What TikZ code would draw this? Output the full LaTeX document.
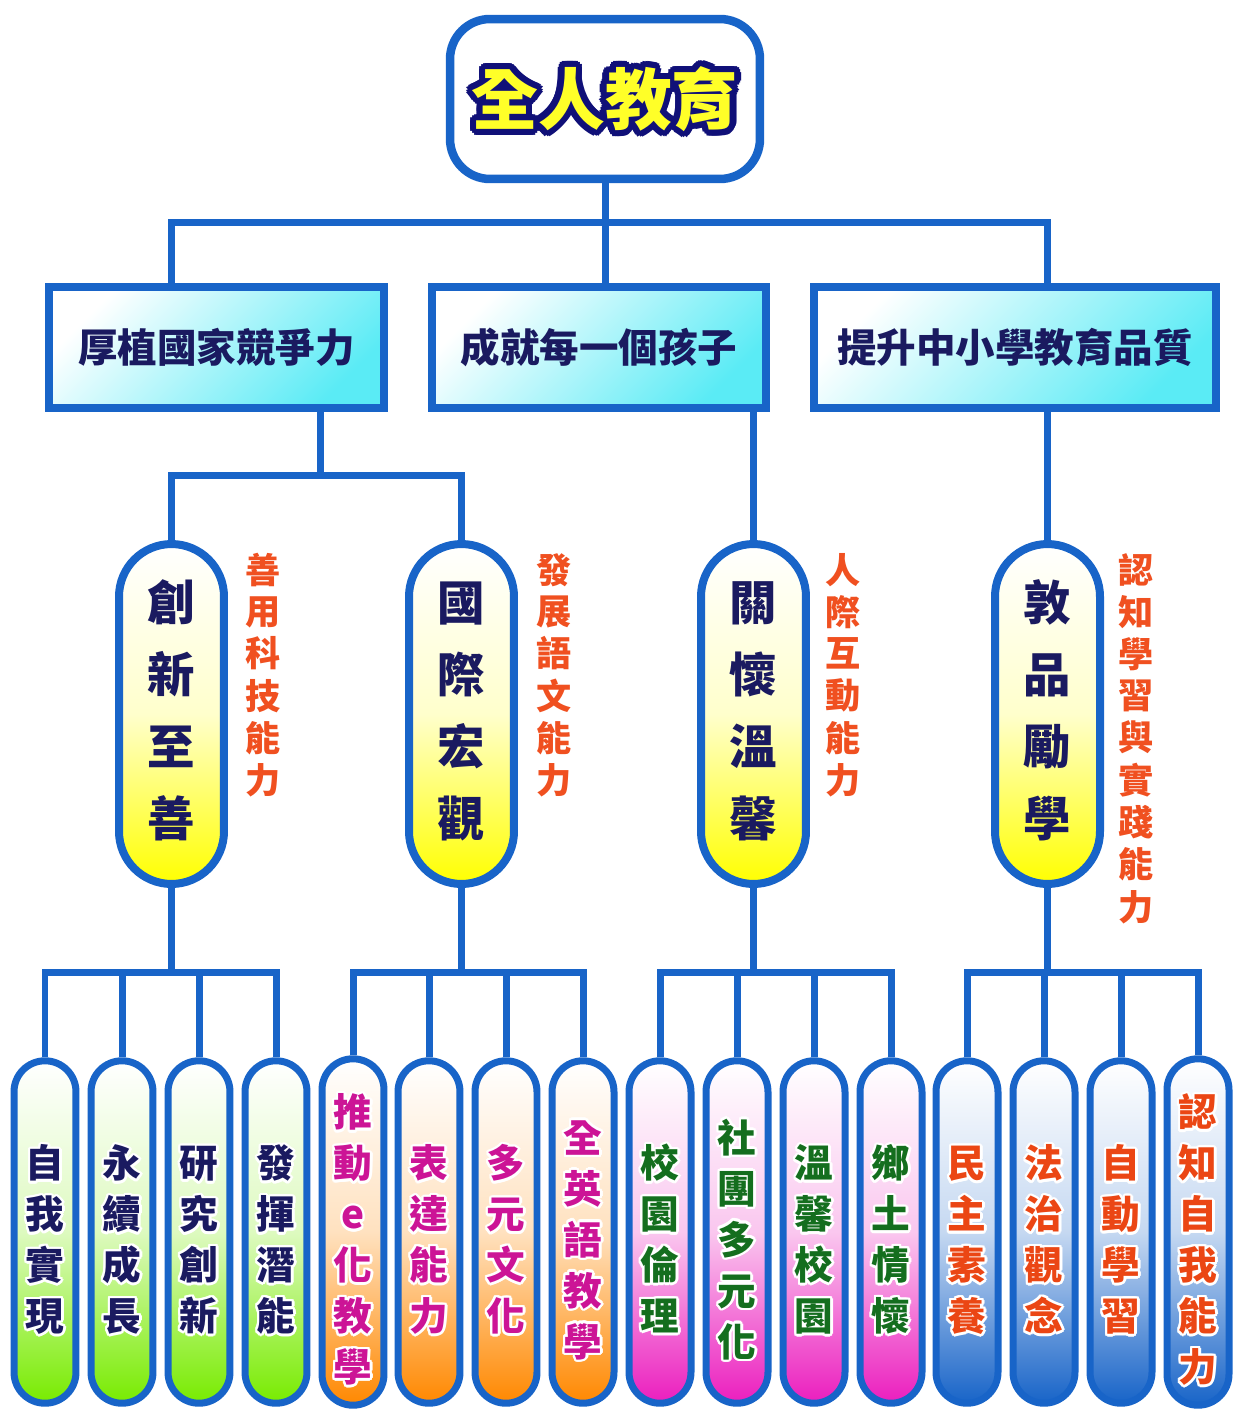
\documentclass[tikz,border=0pt]{standalone}
\usepackage{fontspec}
\setmainfont{Noto Sans CJK TC}
\usepackage{xcolor}
\usepackage{tikz}

\definecolor{linkblue}{RGB}{24,100,200}
\definecolor{titlenavy}{RGB}{16,16,120}
\definecolor{titleyellow}{RGB}{255,255,40}
\definecolor{textnavy}{RGB}{26,26,96}
\definecolor{labelred}{RGB}{240,80,32}
\definecolor{goalcyan}{RGB}{90,235,245}
\definecolor{valyellow}{RGB}{255,255,0}
\definecolor{leafgreen}{RGB}{120,235,0}
\definecolor{leaforange}{RGB}{255,136,0}
\definecolor{leafpink}{RGB}{235,30,190}
\definecolor{leafblue}{RGB}{24,100,200}
\definecolor{inkpink}{RGB}{204,20,150}
\definecolor{inkgreen}{RGB}{20,110,30}
\definecolor{inkred}{RGB}{235,70,20}

% characters stacked one under the other
\newcommand\stackchars[1]{\begin{tabular}{@{}c@{}}#1\end{tabular}}
% same, sitting a little lower in its pill
\newcommand\leafchars[1]{\begin{tabular}{@{}c@{}}\rule{0pt}{34pt}#1\end{tabular}}
% text with a coloured outline: #1 outline colour, #2 radius, #3 text colour, #4 text
\newcommand\halo[4]{%
  \foreach \ang in {0,22.5,...,337.5}{%
    \pgfmathsetlengthmacro\hx{#2*cos(\ang)}%
    \pgfmathsetlengthmacro\hy{#2*sin(\ang)}%
    \rlap{\kern\hx\raisebox{\hy}{\textcolor{#1}{#4}}}}%
  \textcolor{#3}{#4}}

\tikzset{
  conn/.style={draw=linkblue, line width=0.14cm},
  titlebox/.style={draw=linkblue, line width=0.17cm, rounded corners=0.8cm, fill=white,
    minimum width=6.2cm, minimum height=3.2cm, font=\bfseries\fontsize{38}{42}\selectfont},
  goalbox/.style={draw=linkblue, line width=0.16cm, top color=white, bottom color=goalcyan,
    shading angle=45, minimum height=2.42cm, text=textnavy,
    font=\bfseries\fontsize{22.5}{26}\selectfont},
  valpill/.style={draw=linkblue, line width=0.16cm, rounded corners=1.05cm,
    top color=white, bottom color=valyellow, middle color=valyellow!20,
    minimum width=2.1cm, minimum height=6.8cm, text=textnavy,
    font=\bfseries\fontsize{27}{41}\selectfont},
  sidelabel/.style={anchor=north, inner sep=0pt, text=labelred,
    font=\bfseries\fontsize{20}{23.2}\selectfont},
  leaf/.style={draw=linkblue, line width=0.14cm, rounded corners=0.62cm,
    top color=white, bottom color=#1, middle color=#1!25,
    minimum width=1.24cm, minimum height=6.85cm,
    font=\bfseries\fontsize{22}{29}\selectfont}
}

\begin{document}
\begin{tikzpicture}[x=0.02cm, y=-0.02cm]
\useasboundingbox[fill=white] (0,0) rectangle (1234,1410);

% top
\node[titlebox] (top) at (605,99) {\halo{titlenavy}{3.6pt}{titleyellow}{全人教育}};

% goals
\node[goalbox, minimum width=6.7cm] (goalA) at (216.5,347.5) {厚植國家競爭力};
\node[goalbox, minimum width=6.68cm] (goalB) at (599,347.5) {成就每一個孩子};
\node[goalbox, minimum width=8.04cm] (goalC) at (1015,347.5) {提升中小學教育品質};

% values and their abilities
\node[valpill] (valA) at (171.5,714) {\stackchars{創\\新\\至\\善}};
\node[valpill] (valB) at (461.5,714) {\stackchars{國\\際\\宏\\觀}};
\node[valpill] (valC) at (753.5,714) {\stackchars{關\\懷\\溫\\馨}};
\node[valpill] (valD) at (1047.5,714) {\stackchars{敦\\品\\勵\\學}};
\node[sidelabel] (skillA) at (263,553) {\stackchars{善\\用\\科\\技\\能\\力}};
\node[sidelabel] (skillB) at (554,553) {\stackchars{發\\展\\語\\文\\能\\力}};
\node[sidelabel] (skillC) at (843,553) {\stackchars{人\\際\\互\\動\\能\\力}};
\node[sidelabel] (skillD) at (1136,553) {\stackchars{認\\知\\學\\習\\與\\實\\踐\\能\\力}};

% leaves
\node[leaf=leafgreen] (leafA1) at (45,1232) {\halo{white}{1.4pt}{textnavy}{\leafchars{自\\我\\實\\現}}};
\node[leaf=leafgreen] (leafA2) at (122,1232) {\halo{white}{1.4pt}{textnavy}{\leafchars{永\\續\\成\\長}}};
\node[leaf=leafgreen] (leafA3) at (199,1232) {\halo{white}{1.4pt}{textnavy}{\leafchars{研\\究\\創\\新}}};
\node[leaf=leafgreen] (leafA4) at (276,1232) {\halo{white}{1.4pt}{textnavy}{\leafchars{發\\揮\\潛\\能}}};
\node[leaf=leaforange] (leafB1) at (353,1232) {\halo{white}{1.4pt}{inkpink}{\leafchars{推\\動\\e\\化\\教\\學}}};
\node[leaf=leaforange] (leafB2) at (429,1232) {\halo{white}{1.4pt}{inkpink}{\leafchars{表\\達\\能\\力}}};
\node[leaf=leaforange] (leafB3) at (506,1232) {\halo{white}{1.4pt}{inkpink}{\leafchars{多\\元\\文\\化}}};
\node[leaf=leaforange] (leafB4) at (583,1232) {\halo{white}{1.4pt}{inkpink}{\leafchars{全\\英\\語\\教\\學}}};
\node[leaf=leafpink] (leafC1) at (660,1232) {\halo{white}{1.4pt}{inkgreen}{\leafchars{校\\園\\倫\\理}}};
\node[leaf=leafpink] (leafC2) at (737,1232) {\halo{white}{1.4pt}{inkgreen}{\leafchars{社\\團\\多\\元\\化}}};
\node[leaf=leafpink] (leafC3) at (814,1232) {\halo{white}{1.4pt}{inkgreen}{\leafchars{溫\\馨\\校\\園}}};
\node[leaf=leafpink] (leafC4) at (891,1232) {\halo{white}{1.4pt}{inkgreen}{\leafchars{鄉\\土\\情\\懷}}};
\node[leaf=leafblue] (leafD1) at (967,1232) {\halo{white}{1.4pt}{inkred}{\leafchars{民\\主\\素\\養}}};
\node[leaf=leafblue] (leafD2) at (1044,1232) {\halo{white}{1.4pt}{inkred}{\leafchars{法\\治\\觀\\念}}};
\node[leaf=leafblue] (leafD3) at (1121,1232) {\halo{white}{1.4pt}{inkred}{\leafchars{自\\動\\學\\習}}};
\node[leaf=leafblue] (leafD4) at (1198,1232) {\halo{white}{1.4pt}{inkred}{\leafchars{認\\知\\自\\我\\能\\力}}};

% top -> goals
\coordinate (busTop) at (605,222);
\draw[conn] (top.south) -- (top.south |- goalB.north);
\draw[conn] (valA.north |- goalA.north) |- (busTop) -| (valD.north |- goalC.north);

% goals -> values
\coordinate (busA) at (320,475);
\draw[conn] (busA |- goalA.south) -- (busA);
\draw[conn] (valA.north) |- (busA) -| (valB.north);
\draw[conn] (valC.north |- goalB.south) -- (valC.north);
\draw[conn] (valD.north |- goalC.south) -- (valD.north);

% values -> leaves
\draw[conn] (valA.south) -- (valA.south |- 0,972) coordinate (busLA);
\draw[conn] (leafA1.north) |- (busLA) -| (leafA4.north);
\draw[conn] (leafA2.north) -- (leafA2.north |- busLA);
\draw[conn] (leafA3.north) -- (leafA3.north |- busLA);
\draw[conn] (valB.south) -- (valB.south |- 0,972) coordinate (busLB);
\draw[conn] (leafB1.north) |- (busLB) -| (leafB4.north);
\draw[conn] (leafB2.north) -- (leafB2.north |- busLB);
\draw[conn] (leafB3.north) -- (leafB3.north |- busLB);
\draw[conn] (valC.south) -- (valC.south |- 0,972) coordinate (busLC);
\draw[conn] (leafC1.north) |- (busLC) -| (leafC4.north);
\draw[conn] (leafC2.north) -- (leafC2.north |- busLC);
\draw[conn] (leafC3.north) -- (leafC3.north |- busLC);
\draw[conn] (valD.south) -- (valD.south |- 0,972) coordinate (busLD);
\draw[conn] (leafD1.north) |- (busLD) -| (leafD4.north);
\draw[conn] (leafD2.north) -- (leafD2.north |- busLD);
\draw[conn] (leafD3.north) -- (leafD3.north |- busLD);
\end{tikzpicture}
\end{document}
